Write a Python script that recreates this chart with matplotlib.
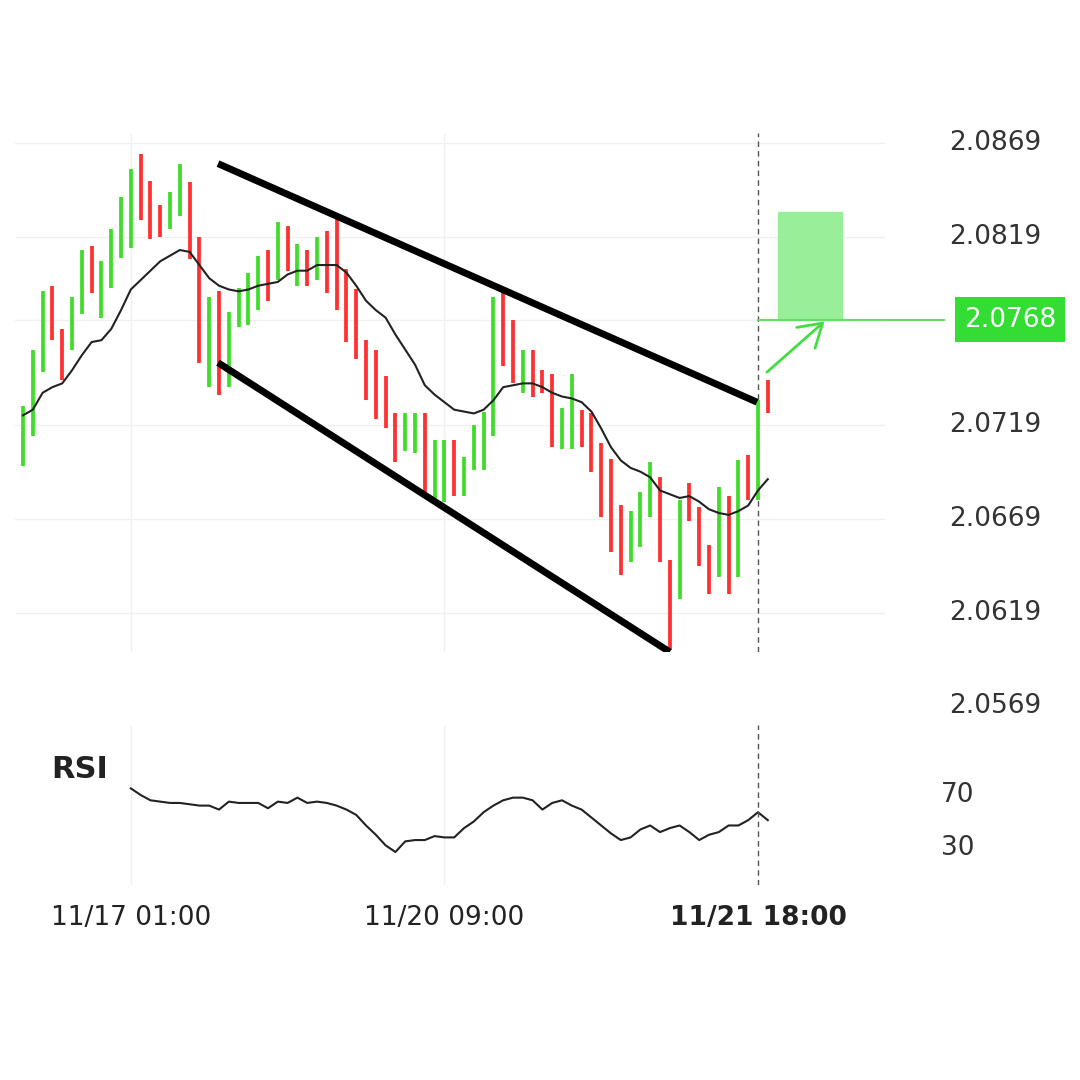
import matplotlib
matplotlib.use("Agg")
import matplotlib.pyplot as plt
import matplotlib.transforms as mtransforms
from matplotlib.patches import Rectangle, FancyArrowPatch
import numpy as np

highs = [2.0729,2.0759,2.0790,2.0793,2.0770,2.0787,2.0812,2.0814,2.0806,2.0823,
         2.0840,2.0855,2.0863,2.0849,2.0836,2.0843,2.0858,2.0848,2.0819,2.0787,
         2.0790,2.0779,2.0792,2.0800,2.0809,2.0812,2.0827,2.0825,2.0815,2.0812,
         2.0819,2.0822,2.0829,2.0802,2.0791,2.0764,2.0759,2.0745,2.0725,2.0725,
         2.0725,2.0725,2.0711,2.0711,2.0711,2.0702,2.0719,2.0726,2.0787,2.0790,
         2.0775,2.0759,2.0759,2.0748,2.0746,2.0728,2.0746,2.0727,2.0725,2.0709,
         2.0701,2.0676,2.0673,2.0683,2.0699,2.0691,2.0647,2.0679,2.0688,2.0675,
         2.0655,2.0686,2.0681,2.0700,2.0703,2.0732,2.0743]
lows = [2.0697,2.0713,2.0747,2.0764,2.0743,2.0759,2.0778,2.0789,2.0776,2.0792,
        2.0808,2.0813,2.0828,2.0818,2.0819,2.0823,2.0830,2.0807,2.0752,2.0739,
        2.0735,2.0739,2.0771,2.0772,2.0780,2.0785,2.0796,2.0801,2.0793,2.0793,
        2.0796,2.0789,2.0780,2.0763,2.0754,2.0732,2.0722,2.0717,2.0699,2.0705,
        2.0704,2.0683,2.0679,2.0678,2.0681,2.0681,2.0695,2.0695,2.0713,2.0750,
        2.0741,2.0736,2.0734,2.0736,2.0707,2.0706,2.0706,2.0707,2.0694,2.0670,
        2.0651,2.0639,2.0646,2.0654,2.0670,2.0646,2.0599,2.0626,2.0668,2.0644,
        2.0629,2.0638,2.0629,2.0638,2.0679,2.0679,2.0725]
colors = ["g","g","g","r","r","g","g","r","g","g","g","g","r","r","r","g","g","r","r","g",
          "r","g","g","g","g","r","g","r","g","r","g","r","r","r","r","r","r","r","r","g",
          "g","r","g","g","r","g","g","g","g","r","r","g","r","r","r","g","g","r","r","r",
          "r","r","g","g","g","r","r","g","r","r","r","g","r","g","r","g","r"]
ma = [2.0724,2.0727,2.0736,2.0739,2.0741,2.0748,2.0756,2.0763,2.0764,2.0770,
      2.0780,2.0791,2.0796,2.0801,2.0806,2.0809,2.0812,2.0811,2.0804,2.0797,
      2.0793,2.0791,2.0790,2.0791,2.0793,2.0794,2.0795,2.0799,2.0801,2.0801,
      2.0804,2.0804,2.0804,2.0800,2.0793,2.0785,2.0780,2.0776,2.0767,2.0759,
      2.0751,2.0740,2.0735,2.0731,2.0727,2.0726,2.0725,2.0727,2.0732,2.0739,
      2.0740,2.0741,2.0741,2.0739,2.0736,2.0734,2.0733,2.0731,2.0726,2.0717,
      2.0707,2.0700,2.0696,2.0694,2.0691,2.0684,2.0682,2.0680,2.0681,2.0678,
      2.0674,2.0672,2.0671,2.0673,2.0676,2.0684,2.0690]
rsi_start = 11
rsi = [75,70,66,65,64,64,63,62,62,59,65,64,64,64,60,65,64,68,64,65,64,62,
       59,55,47,40,32,27,35,36,36,39,38,38,45,50,57,62,66,68,68,66,59,64,66,62,
       59,53,47,41,36,38,44,47,42,45,47,42,36,40,42,47,47,51,57,51]
price_ticks = [2.0869, 2.0819, 2.0719, 2.0669, 2.0619, 2.0569]
upper_line = ([19.9, 74.9], [2.0858, 2.0731])
lower_line = ([19.9, 66.0], [2.0752, 2.0598])
target_box = (77.0, 83.6, 2.0775, 2.0832)
target_level = 2.0775
target_label = "2.0768"
arrow = ((75.7, 2.0746), (82.0, 2.0775))
rsi_ticks = [70, 30]
xtick_pos = [11, 43, 75]
xtick_labels = ["11/17 01:00", "11/20 09:00", "11/21 18:00"]
current_idx = 75

GREEN = "#3fdc2a"
RED = "#ff3030"
W, H = 1080, 1080
fig = plt.figure(figsize=(10.8, 10.8), dpi=100)
xl = (-0.82, 87.96)
ax = fig.add_axes([15/W, 1-652/H, 870/W, 519/H])
ax.set_xlim(*xl)
ax.set_ylim(2.0598, 2.08743)
ax.axis("off")
for y in price_ticks + [target_level]:
    ax.axhline(y, color="#f0f0f0", lw=1, zorder=0)
for x in xtick_pos[:2]:
    ax.axvline(x, color="#f0f0f0", lw=1, zorder=0)
idx = np.arange(len(highs))
ax.vlines(idx, lows, highs, colors=[GREEN if c == "g" else RED for c in colors], lw=2.7, zorder=2)
ax.plot(idx, ma, color="#222222", lw=1.5, zorder=3)
ax.plot(*upper_line, color="black", lw=5, zorder=4, solid_capstyle="butt")
ax.plot(*lower_line, color="black", lw=5, zorder=4, solid_capstyle="butt")
ax.axvline(current_idx, color="#555555", lw=1, ls=(0, (4, 3)), zorder=1)
x0, x1, y0, y1 = target_box
ax.add_patch(Rectangle((x0, y0), x1-x0, y1-y0, color="#99ee99", zorder=1))
ax.plot([current_idx, 94], [target_level, target_level], color="#66dd66", lw=1.5, clip_on=False, zorder=1)
ax.add_patch(FancyArrowPatch(arrow[0], arrow[1], arrowstyle="->,head_length=8,head_width=5",
                             color="#44dd44", lw=2, zorder=5, mutation_scale=2))
trans = mtransforms.blended_transform_factory(fig.transFigure, ax.transData)
for y in price_ticks:
    ax.text(995/W, y, f"{y:.4f}", transform=trans, ha="center", va="center",
            fontsize=19, color="#333333", clip_on=False)
ax.text(1010/W, target_level, target_label, transform=trans, ha="center", va="center",
        fontsize=19, color="white", clip_on=False,
        bbox=dict(boxstyle="square,pad=0.35", fc="#33dd33", ec="none"))

ax2 = fig.add_axes([15/W, 1-885/H, 870/W, 160/H])
ax2.set_xlim(*xl)
ax2.set_ylim(2.1, 122.8)
ax2.axis("off")
ax2.plot(np.arange(rsi_start, rsi_start+len(rsi)), rsi, color="#222222", lw=1.5)
ax2.axvline(current_idx, color="#555555", lw=1, ls=(0, (4, 3)))
for x in xtick_pos[:2]:
    ax2.axvline(x, color="#f0f0f0", lw=1, zorder=0)
trans2 = mtransforms.blended_transform_factory(fig.transFigure, ax2.transData)
for y in rsi_ticks:
    ax2.text(958/W, y, str(y), transform=trans2, ha="center", va="center",
             fontsize=19, color="#333333", clip_on=False)
fig.text(80/W, 1-770/H, "RSI", ha="center", va="center", fontsize=22, fontweight="bold", color="#222222")
transx = mtransforms.blended_transform_factory(ax2.transData, fig.transFigure)
for i, (p, lab) in enumerate(zip(xtick_pos, xtick_labels)):
    ax2.text(p, 1-918/H, lab, transform=transx, ha="center", va="center", fontsize=19,
             color="#222222", fontweight="bold" if i == 2 else "normal", clip_on=False)
fig.savefig("out.png", dpi=100, facecolor="white")
